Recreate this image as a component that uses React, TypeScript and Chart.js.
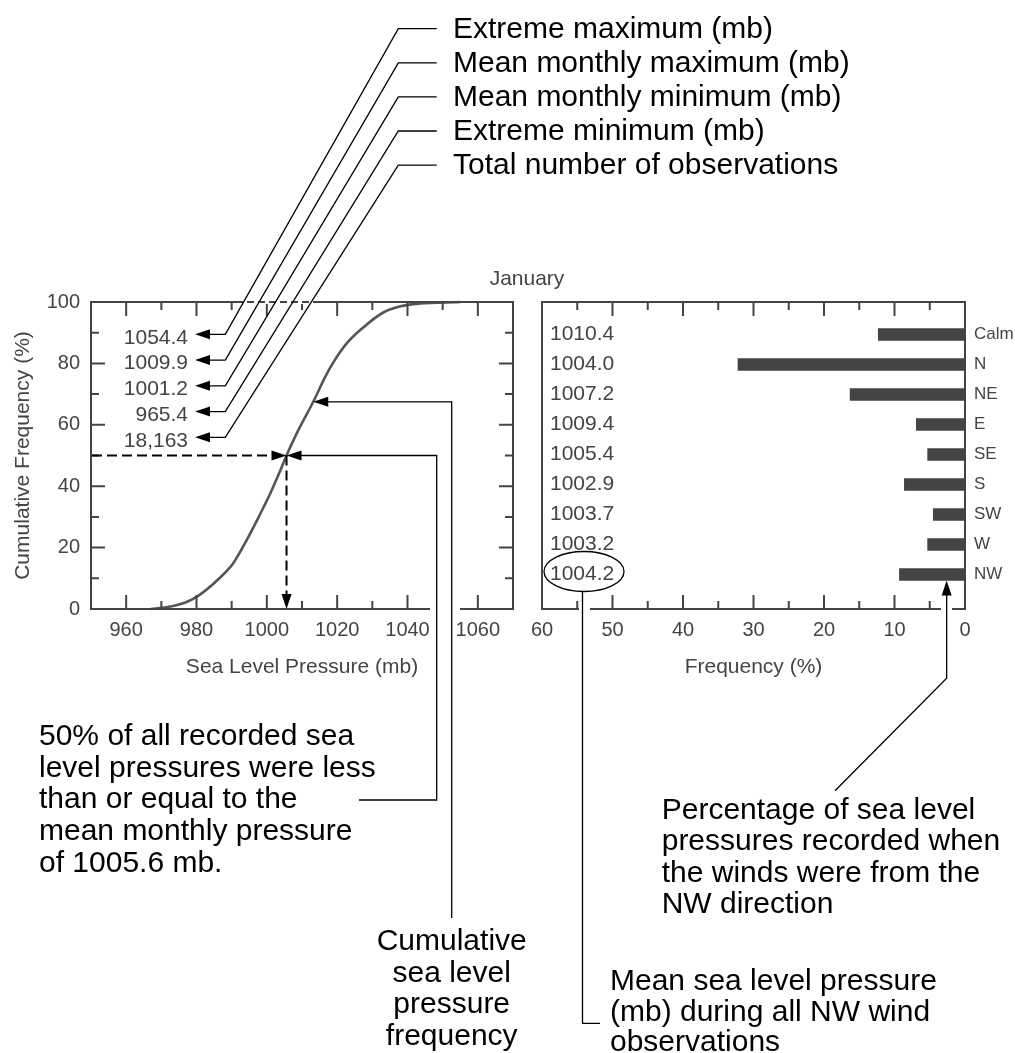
import React, { useEffect, useRef } from 'react';
import { Chart, registerables } from 'chart.js';

Chart.register(...registerables);

const W = 1015;
const H = 1053;
const FONT = "'Liberation Sans', Arial, Helvetica, sans-serif";
const AXIS = '#444444';
const INK = '#000000';
const NOTE_FONT = `30px ${FONT}`;

// ---- Cumulative sea level pressure frequency (left panel) ----
const pressureMb = [967, 973, 977, 981, 986.5, 990.5, 994.3, 998, 1001, 1003.8, 1005.6, 1008.5, 1013.2, 1016.6, 1019, 1022.7, 1027, 1033, 1038, 1043.5, 1055];
const cumulativePct = [0, 0.9, 2.2, 4.7, 10, 15, 22.5, 30.7, 37.7, 45, 50, 57.2, 67.5, 75.6, 80.5, 86.5, 91.3, 96.5, 98.6, 99.5, 100];
const meanPressure = 1005.6;
const medianPct = 50;
const curveArrowPressure = 1013.2;

// ---- Monthly statistics ----
const statValues = ['1054.4', '1009.9', '1001.2', '965.4', '18,163'];
const statLabels = [
  'Extreme maximum (mb)',
  'Mean monthly maximum (mb)',
  'Mean monthly minimum (mb)',
  'Extreme minimum (mb)',
  'Total number of observations',
];

// ---- Wind direction panel (right) ----
const directions = ['Calm', 'N', 'NE', 'E', 'SE', 'S', 'SW', 'W', 'NW'];
const directionFreq = [12.3, 32.2, 16.3, 6.9, 5.3, 8.6, 4.5, 5.3, 9.3];
const directionMeanPressure = ['1010.4', '1004.0', '1007.2', '1009.4', '1005.4', '1002.9', '1003.7', '1003.2', '1004.2'];
const nwArrowFreq = 2.6;

const monthTitle = 'January';
const noteMedian = ['50% of all recorded sea', 'level pressures were less', 'than or equal to the', 'mean monthly pressure', 'of 1005.6 mb.'];
const noteCurve = ['Cumulative', 'sea level', 'pressure', 'frequency'];
const noteNW = ['Percentage of sea level', 'pressures recorded when', 'the winds were from the', 'NW direction'];
const noteMean = ['Mean sea level pressure', '(mb) during all NW wind', 'observations'];

const dirPos = (i: number) => 90 - 10 * i;

function interpCum(p: number) {
  for (let i = 1; i < pressureMb.length; i++) {
    if (p <= pressureMb[i]) {
      const t = (p - pressureMb[i - 1]) / (pressureMb[i] - pressureMb[i - 1]);
      return cumulativePct[i - 1] + t * (cumulativePct[i] - cumulativePct[i - 1]);
    }
  }
  return 100;
}

function arrowHead(ctx: any, tx: number, ty: number, dx: number, dy: number, len = 15, half = 5) {
  const bx = tx - dx * len, by = ty - dy * len;
  const px = -dy, py = dx;
  ctx.beginPath();
  ctx.moveTo(tx, ty);
  ctx.lineTo(bx + px * half, by + py * half);
  ctx.lineTo(bx - px * half, by - py * half);
  ctx.closePath();
  ctx.fill();
}

function polyline(ctx: any, pts: number[][]) {
  ctx.beginPath();
  ctx.moveTo(pts[0][0], pts[0][1]);
  for (let i = 1; i < pts.length; i++) ctx.lineTo(pts[i][0], pts[i][1]);
  ctx.stroke();
}

function textLines(ctx: any, lines: string[], x: number, y0: number, step: number, align: string) {
  ctx.textAlign = align;
  ctx.textBaseline = 'alphabetic';
  lines.forEach((l, i) => ctx.fillText(l, x, y0 + i * step));
}

const leftDecor = {
  id: 'leftDecor',
  afterDraw(chart: any) {
    const { ctx, chartArea: a } = chart;
    const xs = chart.scales.x, ys = chart.scales.y;
    ctx.save();
    // frame + inward ticks
    ctx.strokeStyle = AXIS;
    ctx.lineWidth = 2;
    ctx.setLineDash([]);
    ctx.strokeRect(a.left, a.top, a.right - a.left, a.bottom - a.top);
    ctx.beginPath();
    xs.ticks.forEach((t: any) => {
      if (t.value <= xs.min || t.value >= xs.max) return;
      const px = xs.getPixelForValue(t.value), len = t.value % 20 === 0 ? 14 : 8;
      ctx.moveTo(px, a.bottom); ctx.lineTo(px, a.bottom - len);
      ctx.moveTo(px, a.top); ctx.lineTo(px, a.top + len);
    });
    ys.ticks.forEach((t: any) => {
      if (t.value <= ys.min || t.value >= ys.max) return;
      const py = ys.getPixelForValue(t.value), len = t.value % 20 === 0 ? 14 : 8;
      ctx.moveTo(a.left, py); ctx.lineTo(a.left + len, py);
      ctx.moveTo(a.right, py); ctx.lineTo(a.right - len, py);
    });
    ctx.stroke();
    // dashed stretch of the top border where the leaders cross
    ctx.clearRect(236, a.top - 1.5, 80, 3);
    ctx.setLineDash([7, 4]);
    polyline(ctx, [[236, a.top], [316, a.top]]);
    ctx.setLineDash([]);
    // gap in the bottom axis for the leader lines
    ctx.clearRect(430, a.bottom - 16, 30, 19);

    // median dashed arrows
    const mx = xs.getPixelForValue(meanPressure), my = ys.getPixelForValue(medianPct);
    ctx.strokeStyle = INK;
    ctx.fillStyle = INK;
    ctx.lineWidth = 2;
    ctx.setLineDash([10, 5]);
    polyline(ctx, [[a.left + 1, my], [mx - 14, my]]);
    polyline(ctx, [[mx, my], [mx, a.bottom - 14]]);
    ctx.setLineDash([]);
    arrowHead(ctx, mx, my, 1, 0);
    arrowHead(ctx, mx, a.bottom, 0, 1);

    // leader from the median note
    ctx.lineWidth = 1.3;
    polyline(ctx, [[mx + 14, my], [436.7, my], [436.7, 800], [359, 800]]);
    arrowHead(ctx, mx, my, -1, 0);

    // leader from the curve note
    const cx = xs.getPixelForValue(curveArrowPressure), cy = ys.getPixelForValue(interpCum(curveArrowPressure));
    polyline(ctx, [[cx + 14, cy], [451.7, cy], [451.7, 918]]);
    arrowHead(ctx, cx, cy, -1, 0);

    // monthly statistics with leaders to the legend text
    for (let i = 0; i < statValues.length; i++) {
      const ay = a.top + 32.3 + i * 25.75;
      const ty = 28.7 + i * 34.1;
      ctx.fillStyle = AXIS;
      ctx.font = `21px ${FONT}`;
      ctx.textAlign = 'right';
      ctx.textBaseline = 'middle';
      ctx.fillText(statValues[i], 188, ay + 3.5);
      ctx.fillStyle = INK;
      arrowHead(ctx, 195, ay, -1, 0, 15, 5);
      polyline(ctx, [[209, ay], [225.3, ay], [398.3, ty], [436.7, ty]]);
      ctx.font = NOTE_FONT;
      ctx.textAlign = 'left';
      ctx.textBaseline = 'alphabetic';
      ctx.fillText(statLabels[i], 453, ty + 9);
    }

    // notes
    ctx.fillStyle = INK;
    ctx.font = NOTE_FONT;
    textLines(ctx, noteMedian, 39, 745, 31.7, 'left');
    textLines(ctx, noteCurve, 451.7, 950, 31.5, 'center');

    // month title
    ctx.fillStyle = AXIS;
    ctx.font = `21px ${FONT}`;
    ctx.textAlign = 'center';
    ctx.textBaseline = 'alphabetic';
    ctx.fillText(monthTitle, 527, 285);
    ctx.restore();
  },
};

const rightDecor = {
  id: 'rightDecor',
  afterDraw(chart: any) {
    const { ctx, chartArea: a } = chart;
    const xs = chart.scales.x, ys = chart.scales.y;
    ctx.save();
    ctx.strokeStyle = AXIS;
    ctx.lineWidth = 2;
    ctx.strokeRect(a.left, a.top, a.right - a.left, a.bottom - a.top);
    ctx.beginPath();
    xs.ticks.forEach((t: any) => {
      if (t.value <= xs.min || t.value >= xs.max) return;
      const px = xs.getPixelForValue(t.value), len = t.value % 10 === 0 ? 14 : 8;
      ctx.moveTo(px, a.bottom); ctx.lineTo(px, a.bottom - len);
      ctx.moveTo(px, a.top); ctx.lineTo(px, a.top + len);
    });
    ctx.stroke();

    const nwY = ys.getPixelForValue(dirPos(directions.length - 1));
    // ellipse around the NW mean pressure
    const ex = a.left + 42, ey = nwY - 3, rx = 40, ry = 20;
    ctx.clearRect(ex - 5.5, a.bottom - 2, 11, 4);
    const tipX = xs.getPixelForValue(nwArrowFreq);
    ctx.clearRect(tipX - 5.5, a.bottom - 2, 11, 4);

    ctx.strokeStyle = INK;
    ctx.fillStyle = INK;
    ctx.lineWidth = 1.3;
    ctx.beginPath();
    ctx.ellipse(ex, ey, rx, ry, 0, 0, Math.PI * 2);
    ctx.stroke();
    polyline(ctx, [[ex - 1.5, ey + ry], [ex - 1.5, 1023.3], [600, 1023.3]]);

    // NW frequency arrow
    const tipY = nwY + 6;
    arrowHead(ctx, tipX, tipY, 0, -1, 15, 5);
    polyline(ctx, [[tipX, tipY + 14], [tipX, 678.3], [835, 790.7]]);

    ctx.font = NOTE_FONT;
    textLines(ctx, noteNW, 661.7, 819, 31.3, 'left');
    textLines(ctx, noteMean, 610, 990, 30.6, 'left');
    ctx.restore();
  },
};

const tickFont = { size: 20, family: FONT };
const titleFont = { size: 21, family: FONT };

function leftConfig(): any {
  return {
    type: 'line',
    data: {
      datasets: [
        {
          data: pressureMb.map((p, i) => ({ x: p, y: cumulativePct[i] })),
          borderColor: '#555555',
          borderWidth: 2.6,
          pointRadius: 0,
          cubicInterpolationMode: 'monotone',
          fill: false,
          clip: false,
        },
      ],
    },
    options: {
      responsive: false,
      animation: false,
      devicePixelRatio: 1,
      events: [],
      layout: { padding: { left: 0, top: 302, right: 502, bottom: 373 } },
      plugins: { legend: { display: false }, tooltip: { enabled: false } },
      scales: {
        x: {
          type: 'linear',
          position: 'bottom',
          min: 950,
          max: 1070,
          grid: { display: false, drawTicks: false },
          border: { display: false },
          ticks: {
            stepSize: 10,
            autoSkip: false,
            maxRotation: 0,
            padding: 9,
            color: AXIS,
            font: tickFont,
            callback: (v: number) => (v % 20 === 0 ? String(v) : ''),
          },
          title: { display: true, text: 'Sea Level Pressure (mb)', color: AXIS, font: titleFont, padding: { top: 0, bottom: 0 } },
          afterFit: (s: any) => { s.height = 71; },
        },
        y: {
          type: 'linear',
          position: 'left',
          min: 0,
          max: 100,
          grid: { display: false, drawTicks: false },
          border: { display: false },
          ticks: {
            stepSize: 10,
            autoSkip: false,
            padding: 11,
            color: AXIS,
            font: tickFont,
            callback: (v: number) => (v % 20 === 0 ? String(v) : ''),
          },
          title: { display: true, text: 'Cumulative Frequency (%)', color: AXIS, font: titleFont, padding: { top: 10.4, bottom: 0 } },
          afterFit: (s: any) => { s.width = 91; },
        },
      },
    },
    plugins: [leftDecor],
  };
}

function rightConfig(): any {
  const yMin = -1.5, yMax = 100.83;
  const posTicks = (s: any) => { s.ticks = directions.map((_, i) => ({ value: dirPos(i) })); };
  const idxOf = (v: number) => Math.round((90 - v) / 10);
  return {
    type: 'bar',
    data: {
      datasets: [
        {
          data: directions.map((_, i) => ({ x: directionFreq[i], y: dirPos(i) })),
          backgroundColor: '#444444',
          borderWidth: 0,
          barThickness: 12,
          xAxisID: 'x',
          yAxisID: 'y',
        },
      ],
    },
    options: {
      indexAxis: 'y',
      responsive: false,
      animation: false,
      devicePixelRatio: 1,
      events: [],
      layout: { padding: { left: 542, top: 302, right: 0, bottom: 373 } },
      plugins: { legend: { display: false }, tooltip: { enabled: false } },
      scales: {
        x: {
          type: 'linear',
          position: 'bottom',
          min: 0,
          max: 60,
          reverse: true,
          grid: { display: false, drawTicks: false },
          border: { display: false },
          ticks: {
            stepSize: 5,
            autoSkip: false,
            maxRotation: 0,
            padding: 9,
            color: AXIS,
            font: tickFont,
            callback: (v: number) => (v % 10 === 0 ? String(v) : ''),
          },
          title: { display: true, text: 'Frequency (%)', color: AXIS, font: titleFont, padding: { top: 0, bottom: 0 } },
          afterFit: (s: any) => { s.height = 71; },
        },
        y: {
          type: 'linear',
          position: 'right',
          min: yMin,
          max: yMax,
          offset: false,
          grid: { display: false, drawTicks: false, offset: false },
          border: { display: false },
          afterBuildTicks: posTicks,
          ticks: {
            autoSkip: false,
            padding: 9,
            color: AXIS,
            font: { size: 17, family: FONT },
            callback: (v: number) => directions[idxOf(v)] ?? '',
          },
          afterFit: (s: any) => { s.width = 50; },
        },
        yP: {
          type: 'linear',
          position: 'left',
          min: yMin,
          max: yMax,
          offset: false,
          grid: { display: false, drawTicks: false, offset: false },
          border: { display: false },
          afterBuildTicks: posTicks,
          ticks: {
            autoSkip: false,
            mirror: true,
            padding: 8,
            color: AXIS,
            font: { size: 21, family: FONT },
            callback: (v: number) => directionMeanPressure[idxOf(v)] ?? '',
          },
          afterFit: (s: any) => { s.width = 0; },
        },
      },
    },
    plugins: [rightDecor],
  };
}

export default function App() {
  const leftRef = useRef<HTMLCanvasElement>(null);
  const rightRef = useRef<HTMLCanvasElement>(null);

  useEffect(() => {
    const left = new Chart(leftRef.current as HTMLCanvasElement, leftConfig());
    const right = new Chart(rightRef.current as HTMLCanvasElement, rightConfig());
    return () => {
      left.destroy();
      right.destroy();
    };
  }, []);

  const cs: any = { position: 'absolute', left: 0, top: 0, width: W, height: H };
  return (
    <div style={{ position: 'absolute', left: 0, top: 0, width: W, height: H, background: '#ffffff', overflow: 'hidden' }}>
      <canvas ref={leftRef} width={W} height={H} style={cs} />
      <canvas ref={rightRef} width={W} height={H} style={cs} />
    </div>
  );
}
